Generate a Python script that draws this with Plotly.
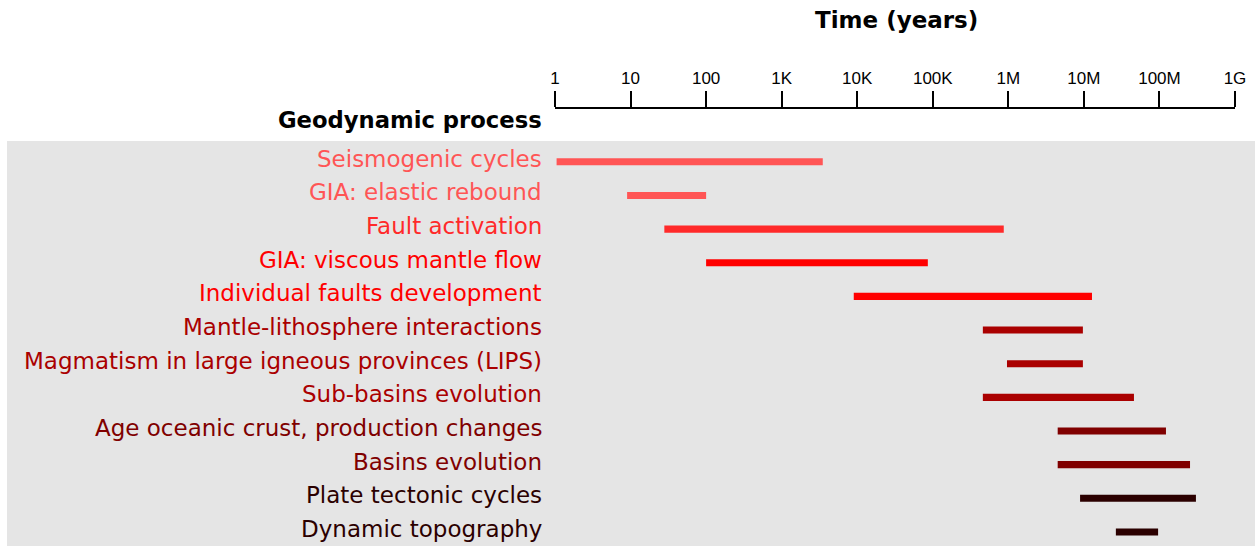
import plotly.graph_objects as go

processes = [
    "Seismogenic cycles",
    "GIA: elastic rebound",
    "Fault activation",
    "GIA: viscous mantle flow",
    "Individual faults development",
    "Mantle-lithosphere interactions",
    "Magmatism in large igneous provinces (LIPS)",
    "Sub-basins evolution",
    "Age oceanic crust, production changes",
    "Basins evolution",
    "Plate tectonic cycles",
    "Dynamic topography",
]
start_years = [1.05, 9, 28, 100, 9000, 4.6e5, 9.6e5, 4.6e5, 4.5e6, 4.5e6, 8.9e6, 2.65e7]
end_years = [3500, 100, 8.7e5, 8.6e4, 1.28e7, 9.7e6, 9.7e6, 4.6e7, 1.22e8, 2.54e8, 3.04e8, 9.6e7]
colors = ["#ff5555", "#ff5555", "#ff2a2a", "#ff0000", "#ff0000",
          "#aa0000", "#aa0000", "#aa0000", "#800000", "#800000",
          "#2b0000", "#2b0000"]

tick_vals = [1, 10, 100, 1e3, 1e4, 1e5, 1e6, 1e7, 1e8, 1e9]
tick_text = ["1", "10", "100", "1K", "10K", "100K", "1M", "10M", "100M", "1G"]

rows = list(range(len(processes)))

fig = go.Figure()
fig.add_trace(go.Bar(
    orientation="h",
    y=rows,
    base=start_years,
    x=[e - s for s, e in zip(start_years, end_years)],
    marker=dict(color=colors, line=dict(width=0)),
    width=0.21,
    showlegend=False,
    hoverinfo="skip",
))

W, H = 1255, 546
ml, mt, mb = 555, 109, 0
mr = W - 1235
pw = W - ml - mr
ph = H - mt - mb

def px_x(X):
    return (X - ml) / pw

def px_y(Y):
    return 1 - (Y - mt) / ph

annotations = []
for i, (name, c) in enumerate(zip(processes, colors)):
    annotations.append(dict(
        x=px_x(544), xref="paper", xanchor="right",
        y=i, yref="y", yanchor="middle", yshift=3,
        text=name, showarrow=False,
        font=dict(family="DejaVu Sans", size=23, color=c),
    ))
annotations.append(dict(
    x=px_x(544), xref="paper", xanchor="right",
    y=px_y(120), yref="paper", yanchor="middle",
    text="<b>Geodynamic process</b>", showarrow=False,
    font=dict(family="DejaVu Sans", size=22.7, color="black"),
))
annotations.append(dict(
    x=px_x(896), xref="paper", xanchor="center",
    y=px_y(20), yref="paper", yanchor="middle",
    text="<b>Time (years)</b>", showarrow=False,
    font=dict(family="DejaVu Sans", size=23, color="black"),
))

# rows are evenly spaced: row i centre at pixel 161.8 + 33.65*i
row0, step = 161.8, 33.65
y_top = (mt - row0) / step
y_bot = (H - row0) / step

fig.update_layout(
    width=W, height=H,
    margin=dict(l=ml, r=mr, t=mt, b=mb),
    paper_bgcolor="white",
    plot_bgcolor="rgba(0,0,0,0)",
    showlegend=False,
    annotations=annotations,
    shapes=[dict(
        type="rect", xref="paper", yref="paper",
        x0=px_x(7), x1=px_x(W),
        y0=0, y1=px_y(141),
        fillcolor="#e5e5e5", line=dict(width=0), layer="below",
    )],
    xaxis=dict(
        type="log", range=[0, 9], side="top",
        tickvals=tick_vals, ticktext=tick_text,
        showline=True, linecolor="black", linewidth=2,
        ticks="outside", ticklen=16, tickwidth=2, tickcolor="black",
        showgrid=False, zeroline=False,
        tickfont=dict(family="Liberation Sans", size=17, color="black"),
        fixedrange=True,
    ),
    yaxis=dict(
        range=[y_bot, y_top], visible=False, fixedrange=True,
    ),
)

fig.write_html(
    "out.html",
    config={"displayModeBar": False, "staticPlot": True},
    post_script="document.body.style.margin='0';document.body.style.overflow='hidden';",
)
